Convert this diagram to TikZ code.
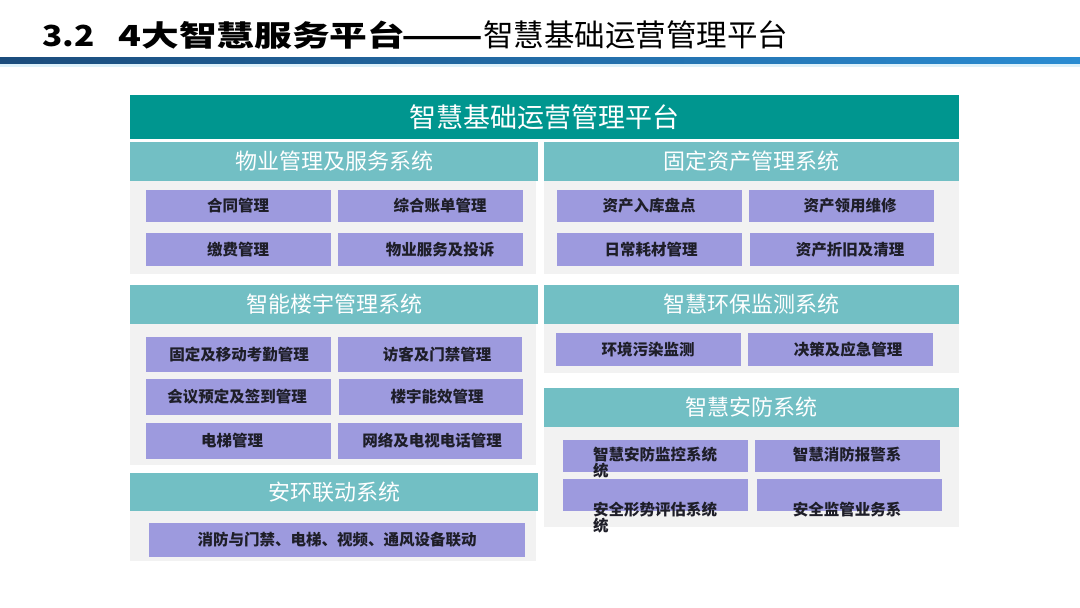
\documentclass[tikz,border=0pt]{standalone}
\usepackage{fontspec}
\usepackage{graphicx}
\setmainfont{Noto Sans CJK SC}
\definecolor{mainteal}{HTML}{00968F}
\definecolor{secteal}{HTML}{72BFC4}
\definecolor{itempurple}{HTML}{9D9ADE}
\definecolor{panelgray}{HTML}{F2F2F2}
\definecolor{itemtxt}{HTML}{1E1E28}
\definecolor{bardark}{HTML}{1B4C7C}
\definecolor{barlight}{HTML}{2A8CD2}
\definecolor{barpale}{HTML}{DDF1FA}
\tikzset{
  box/.style={anchor=north west, inner sep=0pt, outer sep=0pt},
  mainhdr/.style={box, fill=mainteal},
  sechdr/.style={box, fill=secteal},
  panel/.style={box, fill=panelgray},
  itembox/.style={box, fill=itempurple},
  hdrtext/.style={text=white, font=\fontsize{22}{24}\selectfont, inner sep=0pt},
  maintext/.style={text=white, font=\fontsize{27}{30}\selectfont, inner sep=0pt},
  itemtext/.style={text=itemtxt, font=\bfseries\fontsize{15.5}{17}\selectfont, inner sep=0pt},
}
\begin{document}
\begin{tikzpicture}[x=1pt,y=-1pt]
\useasboundingbox (0,0) rectangle (1080,608);
\fill[white] (0,0) rectangle (1080,608);
% title
\node[anchor=base west, inner sep=0pt] (t1) at (42,46)
  {\bfseries\fontsize{29}{32}\selectfont\scalebox{1.15}[1]{3.2}\hspace{24pt}\scalebox{1.3}[1]{4大智慧服务平台}\hspace{-4pt}\scalebox{1.65}[1]{——}};
\node[anchor=base west, inner sep=0pt] (t2) at (483,46)
  {\fontsize{30.5}{32}\selectfont 智慧基础运营管理平台};
% bar
\shade[left color=bardark, right color=barlight] (0,57) rectangle (1080,64);
\fill[barpale] (0,64) rectangle (1080,67);
% main header
\node[mainhdr, minimum width=829pt, minimum height=44pt] (h0) at (130,95) {};
\node[maintext] (h0t) at (h0.center) {智慧基础运营管理平台};
% panels
\node[panel, minimum width=406pt, minimum height=93pt] (p1) at (130,181) {};
\node[panel, minimum width=415pt, minimum height=93pt] (p2) at (544,181) {};
\node[panel, minimum width=406pt, minimum height=141pt] (p3) at (130,324) {};
\node[panel, minimum width=406pt, minimum height=50pt] (p4) at (130,511) {};
\node[panel, minimum width=415pt, minimum height=49pt] (p5) at (544,324) {};
\node[panel, minimum width=415pt, minimum height=100pt] (p6) at (544,427) {};
% section headers
\node[sechdr, minimum width=408pt, minimum height=39pt] (h1) at (130,142) {};
\node[hdrtext] at (h1.center) {物业管理及服务系统};
\node[sechdr, minimum width=415pt, minimum height=39pt] (h2) at (544,142) {};
\node[hdrtext] at (h2.center) {固定资产管理系统};
\node[sechdr, minimum width=408pt, minimum height=39pt] (h3) at (130,285) {};
\node[hdrtext] at (h3.center) {智能楼宇管理系统};
\node[sechdr, minimum width=415pt, minimum height=39pt] (h4) at (544,285) {};
\node[hdrtext] at (h4.center) {智慧环保监测系统};
\node[sechdr, minimum width=408pt, minimum height=38pt] (h5) at (130,473) {};
\node[hdrtext] at (h5.center) {安环联动系统};
\node[sechdr, minimum width=415pt, minimum height=39pt] (h6) at (544,388) {};
\node[hdrtext] at (h6.center) {智慧安防系统};
% top-left items
\node[itembox, minimum width=185pt, minimum height=32pt] (a1) at (146,190) {};
\node[itemtext] at (238,206) {合同管理};
\node[itembox, minimum width=185pt, minimum height=32pt] (a2) at (338,190) {};
\node[itemtext] at (440,206) {综合账单管理};
\node[itembox, minimum width=185pt, minimum height=33pt] (a3) at (146,233) {};
\node[itemtext] at (238,249.5) {缴费管理};
\node[itembox, minimum width=185pt, minimum height=33pt] (a4) at (338,233) {};
\node[itemtext] at (440,249.5) {物业服务及投诉};
% top-right items
\node[itembox, minimum width=185pt, minimum height=32pt] (b1) at (557,190) {};
\node[itemtext] at (649,206) {资产入库盘点};
\node[itembox, minimum width=185pt, minimum height=32pt] (b2) at (749,190) {};
\node[itemtext] at (850,206) {资产领用维修};
\node[itembox, minimum width=185pt, minimum height=33pt] (b3) at (557,233) {};
\node[itemtext] at (651,249.5) {日常耗材管理};
\node[itembox, minimum width=184pt, minimum height=33pt] (b4) at (750,233) {};
\node[itemtext] at (850,249.5) {资产折旧及清理};
% building items
\node[itembox, minimum width=185pt, minimum height=35pt] (c1) at (146,337) {};
\node[itemtext] at (239,354.5) {固定及移动考勤管理};
\node[itembox, minimum width=184pt, minimum height=35pt] (c2) at (338,337) {};
\node[itemtext] at (437,354.5) {访客及门禁管理};
\node[itembox, minimum width=185pt, minimum height=36pt] (c3) at (146,379) {};
\node[itemtext] at (237,397) {会议预定及签到管理};
\node[itembox, minimum width=184pt, minimum height=36pt] (c4) at (339,379) {};
\node[itemtext] at (437,397) {楼宇能效管理};
\node[itembox, minimum width=185pt, minimum height=36pt] (c5) at (146,423) {};
\node[itemtext] at (232,441) {电梯管理};
\node[itembox, minimum width=184pt, minimum height=36pt] (c6) at (338,423) {};
\node[itemtext] at (432,441) {网络及电视电话管理};
% linkage item
\node[itembox, minimum width=376pt, minimum height=34pt] (d1) at (149,523) {};
\node[itemtext] at (d1.center) {消防与门禁、电梯、视频、通风设备联动};
% env items
\node[itembox, minimum width=185pt, minimum height=33pt] (e1) at (556,333) {};
\node[itemtext] at (648,349.5) {环境污染监测};
\node[itembox, minimum width=185pt, minimum height=33pt] (e2) at (748,333) {};
\node[itemtext] at (848,349.5) {决策及应急管理};
% security items
\node[itembox, minimum width=185pt, minimum height=32pt] (f1) at (563,440) {};
\node[itembox, minimum width=185pt, minimum height=32pt] (f2) at (755,440) {};
\node[itembox, minimum width=185pt, minimum height=32pt] (f3) at (563,479) {};
\node[itembox, minimum width=185pt, minimum height=32pt] (f4) at (757,479) {};
\node[itemtext, anchor=west] (f1a) at (593,455) {智慧安防监控系统};
\node[itemtext, anchor=west] (f1b) at (593,471) {统};
\node[itemtext] (f2a) at (847,455) {智慧消防报警系};
\node[itemtext, anchor=west] (f3a) at (593,510) {安全形势评估系统};
\node[itemtext, anchor=west] (f3b) at (593,526) {统};
\node[itemtext] (f4a) at (847,510) {安全监管业务系};
\end{tikzpicture}
\end{document}
